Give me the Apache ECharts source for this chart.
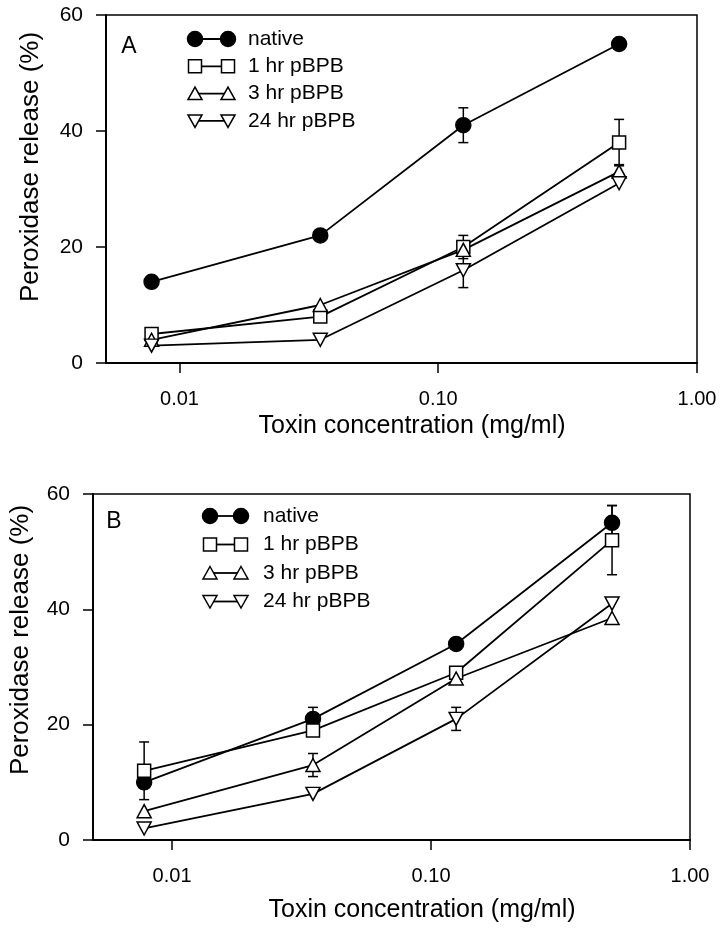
<!DOCTYPE html>
<html>
<head>
<meta charset="utf-8">
<script src="https://cdn.jsdelivr.net/npm/echarts@6/dist/echarts.min.js"></script>
<style>
html, body { margin: 0; padding: 0; background: #fff; }
#chart { width: 721px; height: 931px; }
</style>
</head>
<body>
<div id="chart"></div>
<script>
// toxin concentrations (mg/ml), same for both panels
var concentrations = [0.0078, 0.035, 0.125, 0.5]
var xTickValues = [0.01, 0.1, 1]
var seriesNames = ['native', '1 hr pBPB', '3 hr pBPB', '24 hr pBPB']

// panel A - peroxidase release (%) and error (+/-)
var nativeA = [14, 22, 41, 55]
var nativeErrA = [0, 0, 3, 0]
var hr1A = [5, 8, 20, 38]
var hr1ErrA = [0, 0, 2, 4]
var hr3A = [4, 10, 19.5, 33]
var hr3ErrA = [0, 0, 0, 1.2]
var hr24A = [3, 4, 16, 31]
var hr24ErrA = [0, 0, 3, 0]

// panel B
var nativeB = [10, 21, 34, 55]
var nativeErrB = [0, 2, 0, 3]
var hr1B = [12, 19, 29, 52]
var hr1ErrB = [5, 0, 0, 6]
var hr3B = [5, 13, 28, 38.5]
var hr3ErrB = [0, 2, 0, 0]
var hr24B = [2, 8, 21, 41]
var hr24ErrB = [0, 0, 2, 0]

var FONT = '"Liberation Sans", Arial, sans-serif'

var markerStyles = [
    { symbol: 'circle', size: 15, fill: '#000', rotate: 0 },
    { symbol: 'rect', size: 13, fill: '#fff', rotate: 0 },
    { symbol: 'triangle', size: [14, 13], fill: '#fff', rotate: 0 },
    { symbol: 'triangle', size: [14, 13], fill: '#fff', rotate: 180 }
]

var pairs = function (ys) {
    return concentrations.map(function (c, i) { return [c, ys[i]] })
}
var errTriples = function (ys, errs) {
    return concentrations.map(function (c, i) { return [c, ys[i], errs[i]] })
}

var errorBarItem = function (params, api) {
    var e = api.value(2)
    if (!e) return
    var x = api.value(0), y = api.value(1)
    var top = api.coord([x, y + e])
    var bot = api.coord([x, y - e])
    var w = 5
    var st = { stroke: '#000', lineWidth: 1.5 }
    return {
        type: 'group',
        children: [
            { type: 'line', shape: { x1: top[0], y1: top[1], x2: bot[0], y2: bot[1] }, style: st },
            { type: 'line', shape: { x1: top[0] - w, y1: top[1], x2: top[0] + w, y2: top[1] }, style: st },
            { type: 'line', shape: { x1: bot[0] - w, y1: bot[1], x2: bot[0] + w, y2: bot[1] }, style: st }
        ]
    }
}

var makeSeries = function (gridIdx, values, errs) {
    var out = []
    values.forEach(function (ys, i) {
        var m = markerStyles[i]
        out.push({
            name: seriesNames[i],
            type: 'custom',
            xAxisIndex: gridIdx,
            yAxisIndex: gridIdx,
            z: 1,
            silent: true,
            renderItem: errorBarItem,
            data: errTriples(ys, errs[i])
        })
        out.push({
            name: seriesNames[i],
            type: 'line',
            xAxisIndex: gridIdx,
            yAxisIndex: gridIdx,
            z: 3,
            data: pairs(ys),
            symbol: m.symbol,
            symbolSize: m.size,
            symbolRotate: m.rotate,
            showAllSymbol: true,
            lineStyle: { color: '#000', width: 1.8 },
            itemStyle: { color: m.fill, borderColor: '#000', borderWidth: 1.5 },
            animation: false
        })
    })
    return out
}

// hand-drawn legend (marker - line - marker, like the original)
var markerGraphic = function (i, cx, cy) {
    var st = { fill: markerStyles[i].fill, stroke: '#000', lineWidth: 1.5 }
    if (i === 0) return { type: 'circle', shape: { cx: cx, cy: cy, r: 7.5 }, style: st, z: 10 }
    if (i === 1) return { type: 'rect', shape: { x: cx - 6.5, y: cy - 6.5, width: 13, height: 13 }, style: st, z: 10 }
    if (i === 2) return { type: 'polygon', shape: { points: [[cx, cy - 6.5], [cx + 7, cy + 6], [cx - 7, cy + 6]] }, style: st, z: 10 }
    return { type: 'polygon', shape: { points: [[cx - 7, cy - 6], [cx + 7, cy - 6], [cx, cy + 6.5]] }, style: st, z: 10 }
}

var legendGraphics = function (x1, x2, textX, y0, gap) {
    var g = []
    seriesNames.forEach(function (name, i) {
        var y = y0 + gap * i
        g.push({ type: 'line', shape: { x1: x1, y1: y, x2: x2, y2: y }, style: { stroke: '#000', lineWidth: 1.8 }, z: 9 })
        g.push(markerGraphic(i, x1, y))
        g.push(markerGraphic(i, x2, y))
        g.push({
            type: 'text', x: textX, y: y,
            style: { text: name, font: '21px ' + FONT, fill: '#000', textAlign: 'left', textVerticalAlign: 'middle' }
        })
    })
    return g
}

var xAxisFor = function (gridIdx, min) {
    return {
        type: 'log',
        gridIndex: gridIdx,
        logBase: 10,
        min: min,
        max: 1,
        axisLine: { lineStyle: { color: '#000', width: 2 } },
        axisTick: { show: true, inside: false, length: 10, customValues: xTickValues, lineStyle: { color: '#000', width: 1.5 } },
        axisLabel: {
            customValues: xTickValues,
            color: '#000', fontSize: 20, fontFamily: FONT, margin: 26,
            formatter: function (v) { return Number(v).toFixed(2) }
        },
        minorTick: { show: false },
        splitLine: { show: false }
    }
}

var yAxisFor = function (gridIdx) {
    return {
        type: 'value',
        gridIndex: gridIdx,
        min: 0,
        max: 60,
        interval: 20,
        axisLine: { show: true, lineStyle: { color: '#000', width: 2 } },
        axisTick: { show: true, inside: false, length: 10, lineStyle: { color: '#000', width: 1.5 } },
        axisLabel: { color: '#000', fontSize: 21, fontFamily: FONT, margin: 23 },
        splitLine: { show: false }
    }
}

var titleText = function (text, x, y, rotate, size) {
    return {
        type: 'text', x: x, y: y, rotation: rotate ? Math.PI / 2 : 0,
        style: { text: text, font: size + 'px ' + FONT, fill: '#000', textAlign: 'center', textVerticalAlign: 'middle' }
    }
}

var chart = echarts.init(document.getElementById('chart'), null, { renderer: 'canvas' })

var option = {
    backgroundColor: '#fff',
    animation: false,
    grid: [
        { left: 106, top: 15, width: 591, height: 348, show: true, borderColor: '#000', borderWidth: 1.5, backgroundColor: 'transparent' },
        { left: 93, top: 494, width: 597, height: 346, show: true, borderColor: '#000', borderWidth: 1.5, backgroundColor: 'transparent' }
    ],
    xAxis: [xAxisFor(0, 0.0052), xAxisFor(1, 0.00495)],
    yAxis: [yAxisFor(0), yAxisFor(1)],
    series: makeSeries(0, [nativeA, hr1A, hr3A, hr24A], [nativeErrA, hr1ErrA, hr3ErrA, hr24ErrA])
        .concat(makeSeries(1, [nativeB, hr1B, hr3B, hr24B], [nativeErrB, hr1ErrB, hr3ErrB, hr24ErrB])),
    graphic: [
        titleText('Peroxidase release (%)', 31, 167, true, 26),
        titleText('Toxin concentration (mg/ml)', 412, 426, false, 25),
        titleText('Peroxidase release (%)', 21, 640, true, 26),
        titleText('Toxin concentration (mg/ml)', 422, 910, false, 25),
        { type: 'text', x: 129, y: 47, style: { text: 'A', font: '23px ' + FONT, fill: '#000', textAlign: 'center', textVerticalAlign: 'middle' } },
        { type: 'text', x: 114, y: 522, style: { text: 'B', font: '23px ' + FONT, fill: '#000', textAlign: 'center', textVerticalAlign: 'middle' } }
    ].concat(legendGraphics(195, 228, 248, 39, 27.3))
     .concat(legendGraphics(210, 241, 263, 516, 28.5))
}

chart.setOption(option, true)
</script>
</body>
</html>
